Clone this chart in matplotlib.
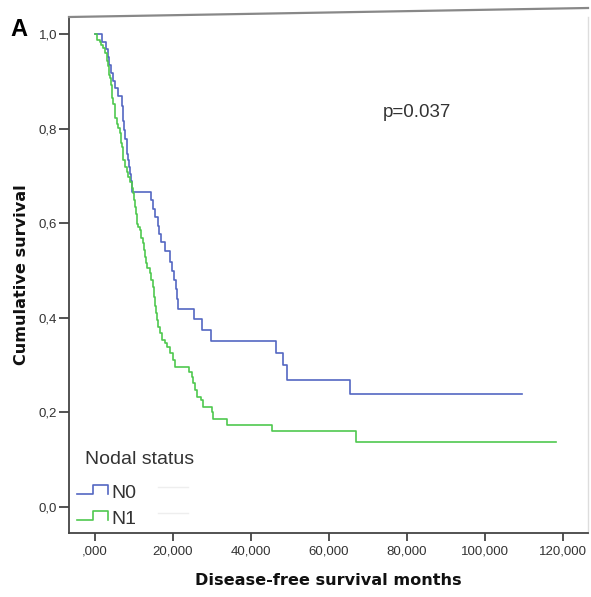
import matplotlib
matplotlib.use("Agg")
import matplotlib.pyplot as plt
from matplotlib.lines import Line2D

# ---- data ----
n0_t = [0.0, 1.9, 2.8, 3.3, 3.7, 4.0, 4.7, 5.0, 5.8, 6.9, 7.1, 7.3, 7.4, 7.7, 8.1, 8.3, 8.5,
        8.7, 9.0, 9.2, 9.4, 9.6, 14.4, 14.9, 15.5, 16.2, 16.5, 16.8, 18.0, 19.1, 19.7, 20.3,
        20.8, 21.1, 21.4, 25.4, 27.4, 29.7, 46.4, 48.1, 49.3, 65.4, 109.6]
n0_s = [1.0, 0.984, 0.968, 0.952, 0.935, 0.917, 0.900, 0.886, 0.868, 0.847, 0.832, 0.817,
        0.797, 0.779, 0.763, 0.747, 0.733, 0.719, 0.703, 0.690, 0.675, 0.665, 0.649, 0.631,
        0.613, 0.594, 0.577, 0.560, 0.542, 0.519, 0.498, 0.479, 0.461, 0.440, 0.418, 0.397,
        0.374, 0.352, 0.326, 0.300, 0.268, 0.238, 0.238]

n1_t = [0.0, 0.4, 1.3, 1.5, 2.1, 2.6, 3.0, 3.4, 3.6, 3.8, 4.1, 4.3, 4.4, 4.7, 5.0, 5.1, 5.6,
        6.0, 6.4, 6.6, 6.85, 7.1, 7.3, 7.7, 8.1, 8.5, 8.9, 9.4, 9.7, 9.9, 10.3, 10.5, 10.7,
        11.1, 11.5, 11.9, 12.3, 12.6, 12.8, 13.2, 13.4, 14.1, 14.3, 14.8, 15.1, 15.4, 15.6,
        16.0, 16.2, 16.7, 17.1, 17.95, 18.4, 19.2, 20.1, 20.4, 24.2, 24.8, 25.2, 25.6, 26.1,
        27.1, 27.8, 29.9, 30.3, 33.8, 45.3, 66.9, 118.1]
n1_s = [1.0, 0.988, 0.984, 0.977, 0.970, 0.960, 0.942, 0.932, 0.914, 0.907, 0.893, 0.879,
        0.865, 0.851, 0.830, 0.822, 0.810, 0.801, 0.790, 0.769, 0.762, 0.748, 0.734, 0.719,
        0.709, 0.698, 0.688, 0.674, 0.663, 0.649, 0.634, 0.620, 0.599, 0.592, 0.585, 0.568,
        0.558, 0.543, 0.529, 0.515, 0.506, 0.494, 0.480, 0.466, 0.445, 0.424, 0.410, 0.395,
        0.381, 0.367, 0.353, 0.346, 0.339, 0.325, 0.311, 0.295, 0.286, 0.275, 0.262, 0.247,
        0.233, 0.226, 0.212, 0.200, 0.187, 0.173, 0.161, 0.138, 0.138]

x_ticks = [0, 20, 40, 60, 80, 100, 120]
x_tick_labels = [",000", "20,000", "40,000", "60,000", "80,000", "100,000", "120,000"]
y_ticks = [0.0, 0.2, 0.4, 0.6, 0.8, 1.0]
y_tick_labels = ["0,0", "0,2", "0,4", "0,6", "0,8", "1,0"]
group_labels = ["N0", "N1"]
p_text = "p=0.037"

# ---- style ----
BLUE = "#5467c2"
GREEN = "#4fc84f"
TXT = "#333333"
AX = "#444444"

W, H = 591, 597
fig = plt.figure(figsize=(W / 100, H / 100), dpi=100)
ax = fig.add_axes([69 / W, 1 - 533 / H, (588 - 69) / W, (533 - 17) / H])

ax.step(n0_t, n0_s, where="post", color=BLUE, lw=1.2)
ax.step(n1_t, n1_s, where="post", color=GREEN, lw=1.2)

ax.set_xlim(-6.67, 126.4)
ax.set_ylim(-0.055, 1.036)

ax.set_xticks(x_ticks)
ax.set_xticklabels(x_tick_labels)
ax.set_yticks(y_ticks)
ax.set_yticklabels(y_tick_labels)
for lab in ax.get_xticklabels() + ax.get_yticklabels():
    lab.set_fontfamily("Liberation Sans")
    lab.set_fontsize(9.5)
    lab.set_color(TXT)
ax.tick_params(axis="y", direction="out", length=7, width=1.3, color=AX, pad=1.5)
ax.tick_params(axis="x", direction="out", length=6, width=1.3, color=AX, pad=3)

for side in ["left", "bottom"]:
    ax.spines[side].set_color(AX)
    ax.spines[side].set_linewidth(1.3)
ax.spines["top"].set_visible(False)
ax.spines["right"].set_color("#dddddd")
ax.spines["right"].set_linewidth(1.0)

# top frame line (slightly slanted in the reference)
fig.add_artist(Line2D([69 / W, 588 / W], [1 - 17 / H, 1 - 8 / H], color="#888888", lw=1.6,
                      transform=fig.transFigure))

ax.set_xlabel("Disease-free survival months", fontfamily="DejaVu Sans", fontweight="bold",
              fontsize=11.6, color="#111111", labelpad=11)
ax.set_ylabel("Cumulative survival", fontfamily="DejaVu Sans", fontweight="bold",
              fontsize=11.6, color="#111111", labelpad=7)

ax.text(73.8, 0.835, p_text, fontfamily="Liberation Sans", fontsize=13.5, color=TXT,
        va="center", ha="left")

fig.text(10 / W, 1 - 30 / H, "A", fontfamily="Liberation Sans", fontweight="bold",
         fontsize=17, color="black", va="center", ha="left")

# ---- legend drawn in axes fraction ----
def axf(px, py):
    return ((px - 69) / (588 - 69), (533 - py) / (533 - 17))

ax.text(*axf(85, 459), "Nodal status", transform=ax.transAxes, fontfamily="Liberation Sans",
        fontsize=14, color=TXT, va="center", ha="left")
for i, (lab, col) in enumerate(zip(group_labels, [BLUE, GREEN])):
    yb = 493.5 + i * 26
    yt = yb - 9
    xs = [77, 93, 93, 107.5, 107.5]
    ys = [yb, yb, yt, yt, yb]
    pts = [axf(x, y) for x, y in zip(xs, ys)]
    ax.add_line(Line2D([p[0] for p in pts], [p[1] for p in pts], color=col, lw=1.2,
                       transform=ax.transAxes, clip_on=False))
    ax.text(*axf(111, yb), lab, transform=ax.transAxes, fontfamily="Liberation Sans",
            fontsize=14, color=TXT, va="center", ha="left")
    p1, p2 = axf(158, yt + 2), axf(188, yt + 2)
    ax.add_line(Line2D([p1[0], p2[0]], [p1[1], p2[1]], color="#eeeeee", lw=1.0,
                       transform=ax.transAxes))

fig.savefig("out.png", dpi=100)
